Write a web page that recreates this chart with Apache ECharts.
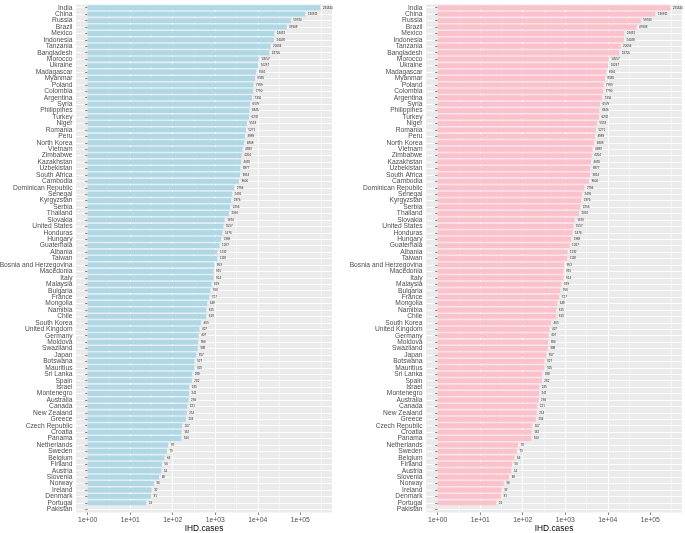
<!DOCTYPE html>
<html>
<head>
<meta charset="utf-8">
<script src="https://cdn.jsdelivr.net/npm/echarts@6/dist/echarts.min.js"></script>
<style>html,body{margin:0;padding:0;background:#fff;}#c{width:685px;height:533px;}</style>
</head>
<body>
<div id="c"></div>
<script>
var countries = ["India","China","Russia","Brazil","Mexico","Indonesia","Tanzania","Bangladesh","Morocco","Ukraine","Madagascar","Myanmar","Poland","Colombia","Argentina","Syria","Philippines","Turkey","Niger","Romania","Peru","North Korea","Vietnam","Zimbabwe","Kazakhstan","Uzbekistan","South Africa","Cambodia","Dominican Republic","Senegal","Kyrgyzstan","Serbia","Thailand","Slovakia","United States","Honduras","Hungary","Guatemala","Albania","Taiwan","Bosnia and Herzegovina","Macedonia","Italy","Malaysia","Bulgaria","France","Mongolia","Namibia","Chile","South Korea","United Kingdom","Germany","Moldova","Swaziland","Japan","Botswana","Mauritius","Sri Lanka","Spain","Israel","Montenegro","Australia","Canada","New Zealand","Greece","Czech Republic","Croatia","Panama","Netherlands","Sweden","Belgium","Finland","Austria","Slovenia","Norway","Ireland","Denmark","Portugal","Pakistan"];
var ihdCasesLeft = [295840,130911,59740,47608,24431,24028,20034,18705,10557,10247,9161,8585,7959,7790,7356,6579,6346,6232,5553,5271,4989,4808,4383,4204,4035,3877,3814,3600,2794,2491,2376,2256,2092,1670,1557,1476,1369,1267,1132,1118,953,915,914,819,766,727,648,615,613,465,427,407,396,388,357,327,325,288,282,245,241,236,221,214,204,167,162,160,78,73,64,56,54,48,36,32,31,24,0];
var ihdCasesRight = ihdCasesLeft.slice();
var tickExponents = [0,1,2,3,4,5];
var axisTitle = "IHD.cases";
var logMin = -0.274, logMax = 5.745;

var FONT = "Liberation Sans";
function fmtExp(v){ var e = Math.round(v); return "1e+" + (e < 10 ? "0" + e : e); }
function barData(arr){ return arr.map(function(v){ return v > 0 ? v : '-'; }); }

function makeGrid(left){
  return {left:left, top:4.5, width:256, height:508, show:true, backgroundColor:'#EBEBEB', borderWidth:0, containLabel:false, outerBoundsMode:'none'};
}
function makeLogAxis(g){
  return {type:'log', logBase:10, gridIndex:g, min:Math.pow(10,logMin), max:Math.pow(10,logMax), show:false, position:'top'};
}
function makeExpAxis(g){
  return {
    type:'value', gridIndex:g, min:logMin, max:logMax, position:'bottom', splitNumber:5,
    name: axisTitle, nameLocation:'middle', nameGap:12, nameMoveOverlap:false,
    nameTextStyle:{fontFamily:FONT, fontSize:8.4, color:'#000', verticalAlign:'top'},
    axisLine:{show:false},
    axisTick:{show:true, length:2.5, customValues:tickExponents, lineStyle:{color:'#333', width:0.6}},
    axisLabel:{show:true, customValues:tickExponents, formatter:fmtExp, fontFamily:FONT, fontSize:6.8, color:'#4D4D4D', margin:4},
    splitLine:{show:true, showMinLine:false, showMaxLine:false, lineStyle:{color:'#FFFFFF', width:1}},
    minorTick:{show:false, splitNumber:2},
    minorSplitLine:{show:true, lineStyle:{color:'#FFFFFF', width:0.5}}
  };
}
function makeYAxis(g){
  return {
    type:'category', gridIndex:g, data:countries, inverse:true,
    axisLine:{show:false},
    axisTick:{show:true, alignWithLabel:true, length:2.5, lineStyle:{color:'#333', width:0.6}},
    axisLabel:{fontFamily:FONT, fontSize:6.7, color:'#4D4D4D', margin:3.5, interval:0},
    splitLine:{show:true, alignWithLabel:true, interval:0, lineStyle:{color:'#FFFFFF', width:0.9}}
  };
}
function makeSeries(g, arr, color){
  return {
    type:'bar', xAxisIndex:g*2, yAxisIndex:g, data:barData(arr), barWidth:'76%',
    itemStyle:{color:color}, silent:true,
    label:{show:true, position:'right', distance:2.5, fontSize:3, color:'#222', fontFamily:FONT,
      formatter:function(p){ return String(p.value); }}
  };
}

var chart = echarts.init(document.getElementById('c'), null, {renderer:'canvas'});
chart.setOption({
  animation:false,
  backgroundColor:'#FFFFFF',
  grid:[makeGrid(76), makeGrid(426)],
  xAxis:[makeLogAxis(0), makeExpAxis(0), makeLogAxis(1), makeExpAxis(1)],
  yAxis:[makeYAxis(0), makeYAxis(1)],
  series:[makeSeries(0, ihdCasesLeft, '#ADD8E6'), makeSeries(1, ihdCasesRight, '#FFC0CB')]
});
</script>
</body>
</html>
